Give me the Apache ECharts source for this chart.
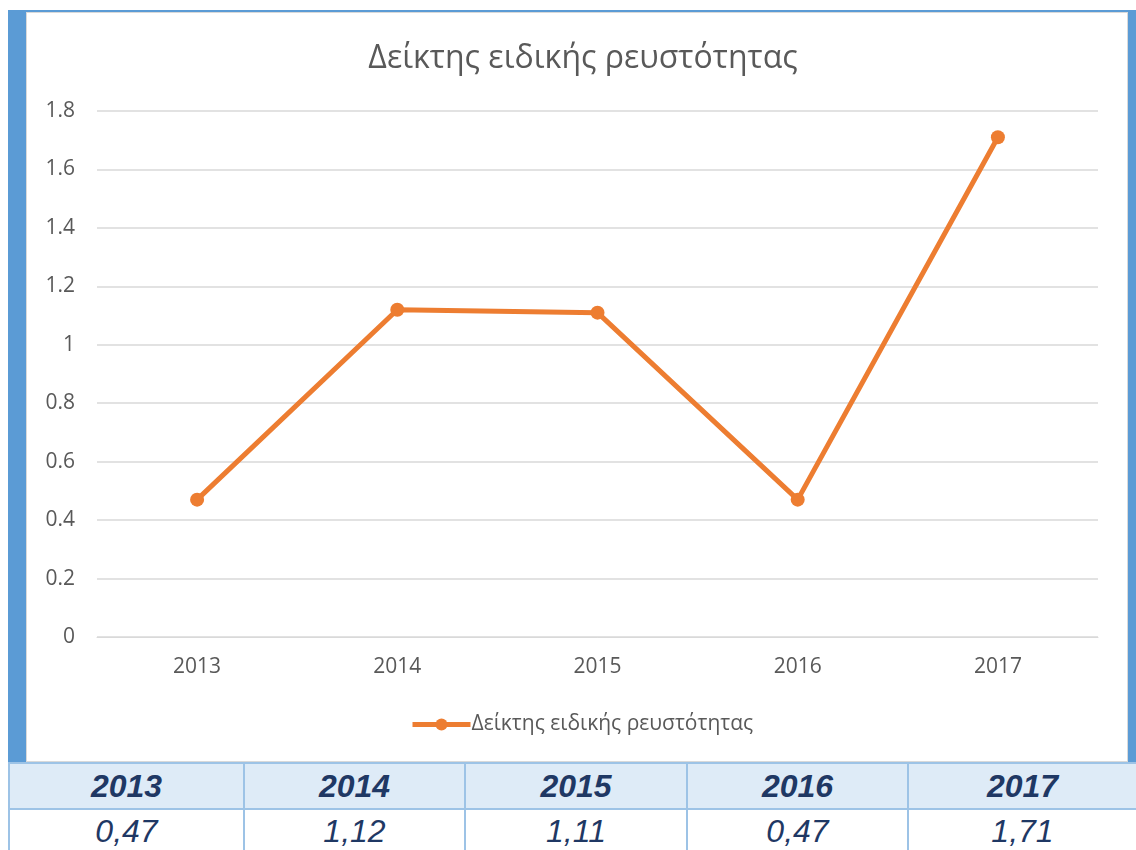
<!DOCTYPE html>
<html><head><meta charset="utf-8">
<script src="https://cdn.jsdelivr.net/npm/echarts@6/dist/echarts.min.js"></script>
<style>
html,body{margin:0;padding:0;background:#fff;width:1136px;height:850px;overflow:hidden;font-family:"Open Sans","Noto Sans",sans-serif;}
#topline{position:absolute;left:8px;top:10px;width:1128px;height:2px;background:#5b9bd5;}
#lstrip{position:absolute;left:8px;top:10px;width:18px;height:752px;background:#5b9bd5;}
#rstrip{position:absolute;left:1128px;top:10px;width:8px;height:752px;background:#5b9bd5;}
#frame{position:absolute;left:26px;top:12px;width:1100px;height:748px;border:1px solid #d9d9d9;background:#fff;}
#chart{position:absolute;left:0;top:0;width:1136px;height:762px;}
table{position:absolute;left:8px;top:762px;width:1128px;border-collapse:collapse;table-layout:fixed;}
td{border:2px solid #9dc3e6;text-align:center;color:#1f3864;font-family:"Liberation Sans","Open Sans",sans-serif;font-style:italic;padding:0;}
tr.h td{background:#deebf7;font-weight:bold;font-size:32px;height:44px;}
tr.v td{background:#fff;font-size:32px;height:42px;}
</style></head>
<body>
<div id="topline"></div><div id="lstrip"></div><div id="rstrip"></div><div id="frame"></div>
<div id="chart"></div>
<table id="tbl"><colgroup><col style="width:235px"><col style="width:221px"><col style="width:222px"><col style="width:221px"><col style="width:229px"></colgroup><tr class="h" id="hrow"></tr><tr class="v" id="vrow"></tr></table>
<script>
var categories = ['2013','2014','2015','2016','2017'];
var values = [0.47, 1.12, 1.11, 0.47, 1.71];
var tableValues = ['0,47','1,12','1,11','0,47','1,71'];
var seriesName = 'Δείκτης ειδικής ρευστότητας';
var yTicks = [0,0.2,0.4,0.6,0.8,1,1.2,1.4,1.6,1.8];

var hrow = document.getElementById('hrow'), vrow = document.getElementById('vrow');
categories.forEach(function(c,i){
  var a=document.createElement('td');a.textContent=c;hrow.appendChild(a);
  var b=document.createElement('td');b.textContent=tableValues[i];vrow.appendChild(b);
});

var chart = echarts.init(document.getElementById('chart'));
chart.setOption({
  animation:false,
  backgroundColor:'transparent',
  title:{text:seriesName,left:578,textAlign:'center',top:38,textStyle:{fontFamily:'Open Sans',fontWeight:'normal',fontSize:32,color:'#595959'}},
  legend:{data:[seriesName],left:405,top:709,itemWidth:58,itemHeight:15,itemGap:4,
    lineStyle:{width:5,color:'#ed7d31'},itemStyle:{color:'#ed7d31'},
    textStyle:{fontFamily:'Open Sans',fontSize:21,color:'#595959',padding:[0,0,0,-4]}},
  grid:{left:97,right:38,top:111,bottom:125},
  xAxis:{type:'category',data:categories,boundaryGap:true,
    axisLine:{lineStyle:{color:'#d9d9d9',width:1}},axisTick:{show:false},
    axisLabel:{margin:20,fontFamily:'Open Sans',fontSize:21,color:'#595959'}},
  yAxis:{type:'value',min:0,max:1.8,interval:0.2,
    axisLine:{show:false},axisTick:{show:false},
    splitLine:{lineStyle:{color:'#d9d9d9',width:1.5}},
    axisLabel:{margin:22,fontFamily:'Open Sans',fontSize:21,color:'#595959',
      formatter:function(v){var t=yTicks.reduce(function(p,c){return Math.abs(c-v)<Math.abs(p-v)?c:p;});return String(+t.toFixed(1));}}},
  series:[{name:seriesName,type:'line',data:values,symbol:'circle',symbolSize:14,
    lineStyle:{color:'#ed7d31',width:5},itemStyle:{color:'#ed7d31'}}]
});
</script>
</body></html>
